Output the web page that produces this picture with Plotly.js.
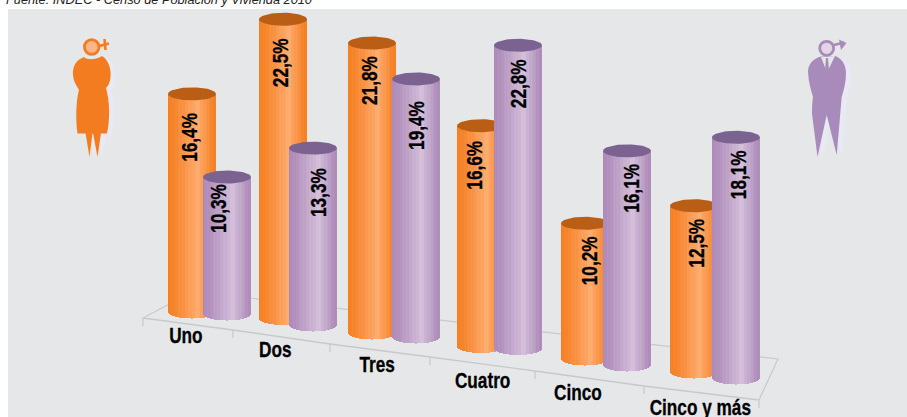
<!DOCTYPE html>
<html><head><meta charset="utf-8">
<script src="https://cdn.plot.ly/plotly-3.0.1.min.js"></script>
<style>html,body{margin:0;padding:0;background:#fff;overflow:hidden}#chart{width:907px;height:417px}</style>
</head><body><div id="chart"></div>
<script>
// ---- data ----
const categories = ["Uno","Dos","Tres","Cuatro","Cinco","Cinco y más"];
const mujeres = [16.4,22.5,21.8,16.6,10.2,12.5];
const varones = [10.3,13.3,19.4,22.8,16.1,18.1];
const sourceText = "Fuente: INDEC - Censo de Población y Vivienda 2010";

// ---- perspective layout (page pixels) ----
const W = 907, H = 417, PX_PER_PCT = 13.3, BAR_W = 48, CAP_R = 6.5;
const leftF = [168,259,348,457,561,670];
const leftM = [203,289,392,494,603,712];
const floorF = [312,318.5,333,346.5,359,372];
const floorM = [314,325,337,348.5,365,378];
const labelXF = [190,281,370,475,590,697];
const labelXM = [219,319,417,519,632,739];
const labelDropF = [44,44,38,40,38,38];
const labelDropM = [32,45,47,39,38,38];
const catX = [186,275,377,482,578,700];
const catY = [336,350,365,381,393,408];
const frontX = [143,233,330,430,535,644,759];
const frontY = [318,330,344,357,371,386,400];
const NARROW = 0.80;

const toUnits = p => (H - p) / PX_PER_PCT;
const px = x => x / W, py = y => 1 - y / H;

function mix(a,b,t){return 'rgb('+a.map((v,i)=>Math.round(v+(b[i]-v)*t)).join(',')+')';}
function shade(edge,light,t,i){
  const k = t < 0.62 ? t/0.62 : (1-t)/0.38;
  const streak = 0.05*Math.sin(i*1.9)+0.03*Math.sin(i*0.7);
  return mix(edge,light,Math.max(0,Math.min(1,Math.pow(k,1.15)+streak)));
}
function cylinders(values,lefts,floors,edge,light){
  const x=[],y=[],base=[],color=[];
  values.forEach((v,c)=>{
    for(let i=0;i<BAR_W;i++){
      const t=(i+0.5)/BAR_W, u=2*t-1, dip=CAP_R*Math.sqrt(1-u*u)/PX_PER_PCT;
      x.push(lefts[c]+i+0.5);
      base.push(toUnits(floors[c])-dip);
      y.push(v+dip);
      color.push(shade(edge,light,t,i));
    }
  });
  return {type:'bar',x,y,base,width:x.map(()=>1),marker:{color,line:{width:0}},hoverinfo:'skip'};
}
function caps(values,lefts,floors,color){
  const x=[],y=[];
  values.forEach((v,c)=>{
    for(let a=0;a<=64;a++){
      const th=a/64*2*Math.PI;
      x.push(lefts[c]+BAR_W/2+BAR_W/2*Math.cos(th));
      y.push(toUnits(floors[c])+v+CAP_R*Math.sin(th)/PX_PER_PCT);
    }
    x.push(null);y.push(null);
  });
  return {type:'scatter',mode:'lines',x,y,fill:'toself',fillcolor:color,line:{width:0,color:color},hoverinfo:'skip'};
}
const onTop = t => Object.assign(t,{xaxis:'x2',yaxis:'y2'});
const traces = [
  cylinders(mujeres,leftF,floorF,[244,126,32],[254,172,112]),
  caps(mujeres,leftF,floorF,'#b95e14'),
  onTop(cylinders(varones,leftM,floorM,[172,137,184],[212,192,218])),
  onTop(caps(varones,leftM,floorM,'#7c6290'))
];

// ---- decoration helpers ----
const P = (pts,close) => pts.map((p,i)=>(i?'L':'M')+px(p[0])+','+py(p[1])).join(' ')+(close?' Z':'');
function curve(cmds){ // [x,y] = line, [x1,y1,x2,y2,x,y] = bezier
  return cmds.map((c,i)=>{
    if(c.length===2) return (i?'L':'M')+px(c[0])+','+py(c[1]);
    return 'C'+px(c[0])+','+py(c[1])+' '+px(c[2])+','+py(c[3])+' '+px(c[4])+','+py(c[5]);
  }).join(' ')+' Z';
}
const paperShape = (o)=>Object.assign({xref:'paper',yref:'paper'},o);
const line = (pts,color,w,layer)=>paperShape({type:'path',path:P(pts,false),line:{color,width:w},layer:layer||'below'});
const fillP = (path,color,layer)=>paperShape({type:'path',path,fillcolor:color,line:{width:0},layer:layer||'above'});
const circ = (cx,cy,r,fill,stroke,w)=>paperShape({type:'circle',x0:px(cx-r),x1:px(cx+r),y0:py(cy+r),y1:py(cy-r),fillcolor:fill,line:{color:stroke,width:w||0},layer:'above'});

const woman = (dx,dy)=>[
  curve([[80+dx,59+dy],[75+dx,62+dy,72.5+dx,68+dy,73+dx,75+dy],[73.5+dx,82+dy,77+dx,86+dy,79+dx,90+dy],
    [76+dx,100+dy,75.5+dx,120+dy,77.5+dx,133.5+dy],[107+dx,133.5+dy],[110+dx,120+dy,110+dx,102+dy,106+dx,88+dy],
    [110+dx,84+dy,111+dx,78+dy,110.5+dx,72+dy],[110+dx,65+dy,107+dx,59+dy,102+dx,56+dy],[98+dx,59+dy,88+dx,61+dy,84+dx,57+dy]]),
  P([[85.5+dx,133+dy],[89.5+dx,157+dy],[92.5+dx,133+dy]],true),
  P([[93+dx,133+dy],[97.5+dx,157+dy],[101+dx,133+dy]],true)
];
const man = (dx,dy)=>[
  curve([[821+dx,56.5+dy],[812+dx,59+dy,808+dx,65+dy,808+dx,72+dy],[808.5+dx,82+dy,811+dx,90+dy,813+dx,97+dy],
    [812+dx,104+dy,812+dx,109+dy,812+dx,114+dy],[817.5+dx,157+dy],[826.7+dx,115+dy],[836.7+dx,155+dy],
    [841.7+dx,97+dy],[844+dx,90+dy,846+dx,82+dy,846+dx,73+dy],[846+dx,65+dy,842+dx,58+dy,835+dx,56+dy]])
];
const shapes = [
  paperShape({type:'rect',x0:px(8),x1:1,y0:0,y1:py(9),fillcolor:'#e6e7e9',line:{width:0},layer:'below'}),
  // floor
  line(frontX.map((x,i)=>[x,frontY[i]]),'#c9c9c9',1.4),
  line([[143,318],[193,291.5],[778,359],[759,400]],'#c9c9c9',1.2),
  ...frontX.map((x,i)=>line([[x,frontY[i]],[x,frontY[i]+8]],'#c9c9c9',1.2)),
  // woman
  ...woman(5,2).map(p=>fillP(p,'#e9e9f4')),
  ...woman(0,0).map(p=>fillP(p,'#f47c20')),
  line([[99,46],[109,43.5]],'#f47c20',2.6,'above'),
  line([[104.5,39],[105.5,50]],'#f47c20',2.6,'above'),
  circ(91.7,47,7.3,'#fdb585','#f47c20',2.8),
  // man
  ...man(5,2).map(p=>fillP(p,'#e9e9f4')),
  ...man(0,0).map(p=>fillP(p,'#a98bbb')),
  fillP(P([[821,57],[827,72.5],[835,56]],true),'#e6e7e9'),
  fillP(P([[826,58],[828,58],[829,70],[827,73],[825,70]],true),'#a98bbb'),
  line([[834,45],[844,42.5]],'#a98bbb',2.6,'above'),
  fillP(P([[839,39.5],[846.5,43],[841,50]],true),'#a98bbb'),
  circ(826.7,48.3,7,'#e2d5e8','#a98bbb',2.8)
];

const LABEL_FONT = {family:'"Liberation Sans",Arial,sans-serif',size:21.5,color:'#000',weight:700};
const pctLabel = (v,fx,c,floors,drops)=>({
  xref:'x',yref:'y',x:fx,y:toUnits(floors[c])+v-drops[c]/PX_PER_PCT,
  text:v.toFixed(1).replace('.',',')+'%',textangle:-90,showarrow:false,font:LABEL_FONT
});
const annotations = [
  ...mujeres.map((v,c)=>pctLabel(v,labelXF[c],c,floorF,labelDropF)),
  ...varones.map((v,c)=>pctLabel(v,labelXM[c],c,floorM,labelDropM)),
  ...categories.map((t,c)=>({xref:'x',yref:'y',x:catX[c],y:toUnits(catY[c]),text:t,showarrow:false,font:LABEL_FONT})),
  {xref:'paper',yref:'paper',x:px(7),y:1,yshift:10,xshift:-3,xanchor:'left',yanchor:'top',showarrow:false,
   text:sourceText,font:{family:'"Liberation Sans",Arial,sans-serif',size:12.75,color:'#222',style:'italic'}}
];
const layout = {
  width:W,height:H,margin:{l:0,r:0,t:0,b:0},paper_bgcolor:'#fff',plot_bgcolor:'rgba(0,0,0,0)',
  showlegend:false,barmode:'overlay',bargap:0,
  xaxis:{range:[0,W],visible:false,fixedrange:true},
  yaxis:{range:[0,H/PX_PER_PCT],visible:false,fixedrange:true},
  xaxis2:{range:[0,W],visible:false,fixedrange:true,overlaying:'x',anchor:'y2'},
  yaxis2:{range:[0,H/PX_PER_PCT],visible:false,fixedrange:true,overlaying:'y',anchor:'x2'},
  shapes,annotations
};
Plotly.newPlot('chart',traces,layout,{displayModeBar:false,responsive:false}).then(gd=>{
  // condensed look for the bold labels: the reference uses a narrow face
  gd.querySelectorAll('.annotation-text').forEach(t=>{
    if(t.textContent===sourceText) return;
    t.setAttribute('textLength',(t.getComputedTextLength()*NARROW).toFixed(1));
    t.setAttribute('lengthAdjust','spacingAndGlyphs');
    t.style.stroke='#000';
    t.style.strokeWidth='0.3px';
  });
});
</script></body></html>
